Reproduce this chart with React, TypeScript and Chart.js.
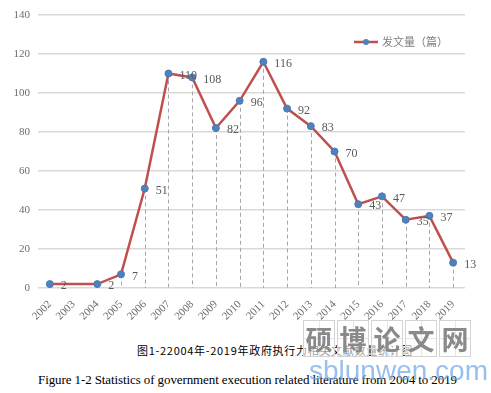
import React, { useEffect, useRef } from "react";
import { Chart, registerables } from "chart.js";

Chart.register(...registerables);

const years = ["2002","2003","2004","2005","2006","2007","2008","2009","2010","2011","2012","2013","2014","2015","2016","2017","2018","2019"];
const counts: (number | null)[] = [2, null, 2, 7, 51, 110, 108, 82, 96, 116, 92, 83, 70, 43, 47, 35, 37, 13];
const seriesName = "发文量（篇）";
const captionZh = "图1-22004年-2019年政府执行力相关文献数量统计图";
const captionEn = "Figure 1-2 Statistics of government execution related literature from 2004 to 2019";
const watermarkChars = ["硕", "博", "论", "文", "网"];
const watermarkUrl = "sblunwen.com";

const LINE = "#c0504d";
const MARK = "#4f81bd";
const GRAY = "#595959";
const SERIF = "'Liberation Serif', 'Times New Roman', serif";

const overlay = {
  id: "overlay",
  beforeDatasetsDraw(chart: any) {
    const ctx = chart.ctx;
    const meta = chart.getDatasetMeta(0);
    const yb = chart.scales.y.getPixelForValue(0);
    ctx.save();
    ctx.strokeStyle = "#a6a6a6";
    ctx.lineWidth = 1;
    ctx.setLineDash([4, 3]);
    meta.data.forEach((pt: any, i: number) => {
      if (counts[i] == null) return;
      ctx.beginPath();
      ctx.moveTo(Math.round(pt.x) + 0.5, pt.y);
      ctx.lineTo(Math.round(pt.x) + 0.5, yb);
      ctx.stroke();
    });
    ctx.restore();
  },
  afterDatasetsDraw(chart: any) {
    const ctx = chart.ctx;
    const meta = chart.getDatasetMeta(0);
    ctx.save();
    ctx.fillStyle = GRAY;
    ctx.font = `12px ${SERIF}`;
    ctx.textAlign = "left";
    ctx.textBaseline = "middle";
    meta.data.forEach((pt: any, i: number) => {
      const v = counts[i];
      if (v == null) return;
      ctx.fillText(String(v), pt.x + 11, pt.y + 2);
    });
    // legend
    const lx = 354, ly = 42;
    ctx.strokeStyle = LINE;
    ctx.lineWidth = 2.5;
    ctx.setLineDash([]);
    ctx.beginPath();
    ctx.moveTo(lx, ly);
    ctx.lineTo(lx + 24, ly);
    ctx.stroke();
    ctx.fillStyle = MARK;
    ctx.beginPath();
    ctx.arc(lx + 12, ly, 3, 0, Math.PI * 2);
    ctx.fill();
    ctx.fillStyle = "#7f7f7f";
    ctx.font = `11px 'Noto Sans CJK SC', sans-serif`;
    ctx.fillText(seriesName, lx + 28, ly);
    ctx.restore();
  },
};

export default function App() {
  const ref = useRef<HTMLCanvasElement>(null);
  useEffect(() => {
    if (!ref.current) return;
    const chart = new Chart(ref.current, {
      type: "line",
      data: {
        labels: years,
        datasets: [
          {
            label: seriesName,
            data: counts,
            borderColor: LINE,
            borderWidth: 2.5,
            backgroundColor: MARK,
            pointBackgroundColor: MARK,
            pointBorderColor: "#4a7ab3",
            pointBorderWidth: 1,
            pointRadius: 3.5,
            spanGaps: true,
            tension: 0,
          },
        ],
      },
      options: {
        animation: false,
        responsive: false,
        maintainAspectRatio: false,
        layout: { padding: { top: 15, right: 26, left: 0, bottom: 0 } },
        plugins: { legend: { display: false }, tooltip: { enabled: false } },
        scales: {
          x: {
            offset: true,
            grid: { display: false },
            border: { display: false },
            ticks: {
              color: "#6d6d6d",
              font: { family: SERIF, size: 11 },
              minRotation: 45,
              maxRotation: 45,
              padding: 2,
              autoSkip: false,
            },
            afterFit: (s: any) => { s.height = 42; },
          },
          y: {
            min: 0,
            max: 140,
            grid: { color: "#d9d9d9", lineWidth: 1.5, drawTicks: false },
            border: { display: false },
            ticks: {
              stepSize: 20,
              color: "#6d6d6d",
              font: { family: SERIF, size: 11 },
              padding: 8,
            },
            afterFit: (s: any) => { s.width = 38; },
          },
        },
      },
      plugins: [overlay],
    });
    return () => chart.destroy();
  }, []);

  return (
    <div style={{ position: "fixed", left: 0, top: 0, width: 491, height: 393, background: "#fff", overflow: "hidden" }}>
      <canvas ref={ref} width={491} height={330} style={{ position: "absolute", left: 0, top: 0, width: 491, height: 330 }} />
      <div style={{ position: "absolute", left: 137, top: 342, fontFamily: "'Noto Sans CJK SC', sans-serif", fontSize: 11, letterSpacing: 0.7, color: "#000", whiteSpace: "nowrap" }}>
        {captionZh}
      </div>
      <div style={{ position: "absolute", left: 0, width: 495, top: 372, textAlign: "center", fontFamily: SERIF, fontSize: 13, color: "#000", whiteSpace: "nowrap", letterSpacing: -0.1 }}>
        {captionEn}
      </div>
      {watermarkChars.map((c, i) => (
        <div key={c} style={{ position: "absolute", left: 303 + i * 34, top: 320, width: 32, height: 37, boxSizing: "border-box", border: "1px solid #d4d4d4", background: "rgba(255,255,255,0.6)" }}>
          <div style={{ position: "absolute", left: 15, top: 0, width: 0, height: 35, borderLeft: "1px solid #e6e6e6" }} />
          <div style={{ position: "absolute", left: 0, top: 17, width: 30, height: 0, borderTop: "1px solid #e6e6e6" }} />
          <div style={{ position: "absolute", left: 0, top: 0, width: 30, height: 35, textAlign: "center", lineHeight: "35px", fontFamily: "'Noto Sans CJK SC', sans-serif", fontWeight: 700, fontSize: 27, color: "#8a8a8a" }}>{c}</div>
        </div>
      ))}
      <div style={{ position: "absolute", left: 309, top: 355, fontFamily: "'Liberation Sans', Arial, sans-serif", fontSize: 28, color: "rgba(110,165,230,0.7)", whiteSpace: "nowrap", lineHeight: "32px" }}>
        {watermarkUrl}
      </div>
    </div>
  );
}
